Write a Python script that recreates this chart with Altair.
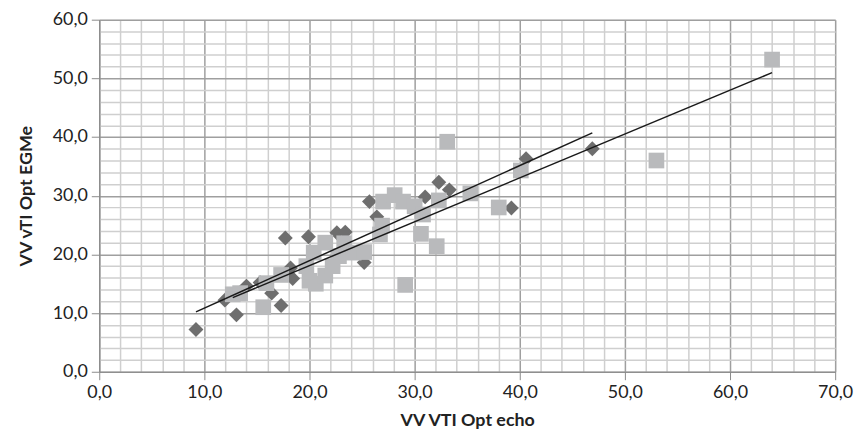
import altair as alt
import pandas as pd

# Series 1 (dark diamonds)
diamond_x = [9.2, 11.95, 13.05, 14.0, 15.3, 16.4, 17.3, 17.7, 18.2, 18.4, 19.9,
             22.6, 23.4, 25.2, 25.7, 26.4, 31.0, 32.3, 33.3, 39.2, 40.6, 46.9]
diamond_y = [7.2, 12.2, 9.7, 14.6, 15.2, 13.4, 11.3, 22.8, 17.7, 15.9, 23.0,
             23.7, 23.8, 18.6, 29.0, 26.4, 29.8, 32.3, 31.0, 27.9, 36.3, 38.0]

# Series 2 (light squares)
square_x = [12.7, 13.4, 15.6, 15.9, 17.3, 19.7, 20.0, 20.6, 20.4, 21.5, 21.5, 22.2,
            22.8, 23.3, 24.2, 25.2, 26.7, 26.9, 27.0, 28.1, 28.9, 29.1, 30.0, 30.6,
            30.8, 32.1, 32.3, 33.1, 35.3, 38.0, 40.1, 53.0, 64.0]
square_y = [13.2, 13.4, 11.0, 15.1, 16.5, 18.0, 15.5, 15.0, 20.3, 22.0, 16.4, 18.0,
            19.7, 21.9, 20.3, 20.4, 23.4, 24.9, 29.0, 30.1, 29.0, 14.8, 28.2, 23.5,
            26.8, 21.4, 29.2, 39.2, 30.4, 28.0, 34.3, 36.0, 53.2]

x_tick_values = list(range(0, 71, 2))
y_tick_values = list(range(0, 61, 2))

df = pd.DataFrame({
    "x": diamond_x + square_x,
    "y": diamond_y + square_y,
    "s": ["A"] * len(diamond_x) + ["B"] * len(square_x),
})

label_expr = "datum.value % 10 === 0 ? replace(format(datum.value, '.1f'), '.', ',') : ''"
major_test = "datum.value % 10 === 0"

def make_axis(values, title, title_padding):
    return alt.Axis(
        values=values,
        labelExpr=label_expr,
        labelOverlap=False,
        labelFlush=False,
        title=title,
        titleFontWeight="bold",
        titleFontSize=18,
        titleColor="#222222",
        titlePadding=title_padding,
        labelFontSize=18,
        labelColor="#222222",
        labelPadding=4,
        grid=True,
        gridColor={"condition": {"test": major_test, "value": "#9f9f9f"}, "value": "#cfcfcf"},
        gridWidth=1.5,
        tickOpacity={"condition": {"test": major_test, "value": 1}, "value": 0},
        tickColor="#8a8a8a",
        tickSize=8,
        domainColor="#8a8a8a",
        domainWidth=1.2,
    )

X = alt.X("x:Q", scale=alt.Scale(domain=[0, 70], nice=False, zero=False),
          axis=make_axis(x_tick_values, "VV VTI Opt echo", 10))
Y = alt.Y("y:Q", scale=alt.Scale(domain=[0, 60], nice=False, zero=False),
          axis=make_axis(y_tick_values, "VV vTI Opt EGMe", 17))

base = alt.Chart(df)

diamonds = base.transform_filter("datum.s === 'A'").mark_point(
    shape="diamond", filled=True, opacity=1, color="#6e6e6e", size=225
).encode(x=X, y=Y)

squares = base.transform_filter("datum.s === 'B'").mark_point(
    shape="square", filled=True, opacity=1, color="#b9babc", size=250
).encode(x=X, y=Y)

trend = base.transform_regression("x", "y", groupby=["s"]).mark_line(
    color="#1a1a1a", strokeWidth=1.5
).encode(x=X, y=Y, detail="s:N")

chart = alt.layer(diamonds, squares, trend).properties(
    width=742,
    height=355,
    autosize=alt.AutoSizeParams(type="none"),
    padding={"left": 92, "top": 10, "right": 20, "bottom": 64},
).configure_view(stroke=None).configure(font="Lato")

chart.save("out.html", embed_options={"renderer": "svg", "actions": False})
